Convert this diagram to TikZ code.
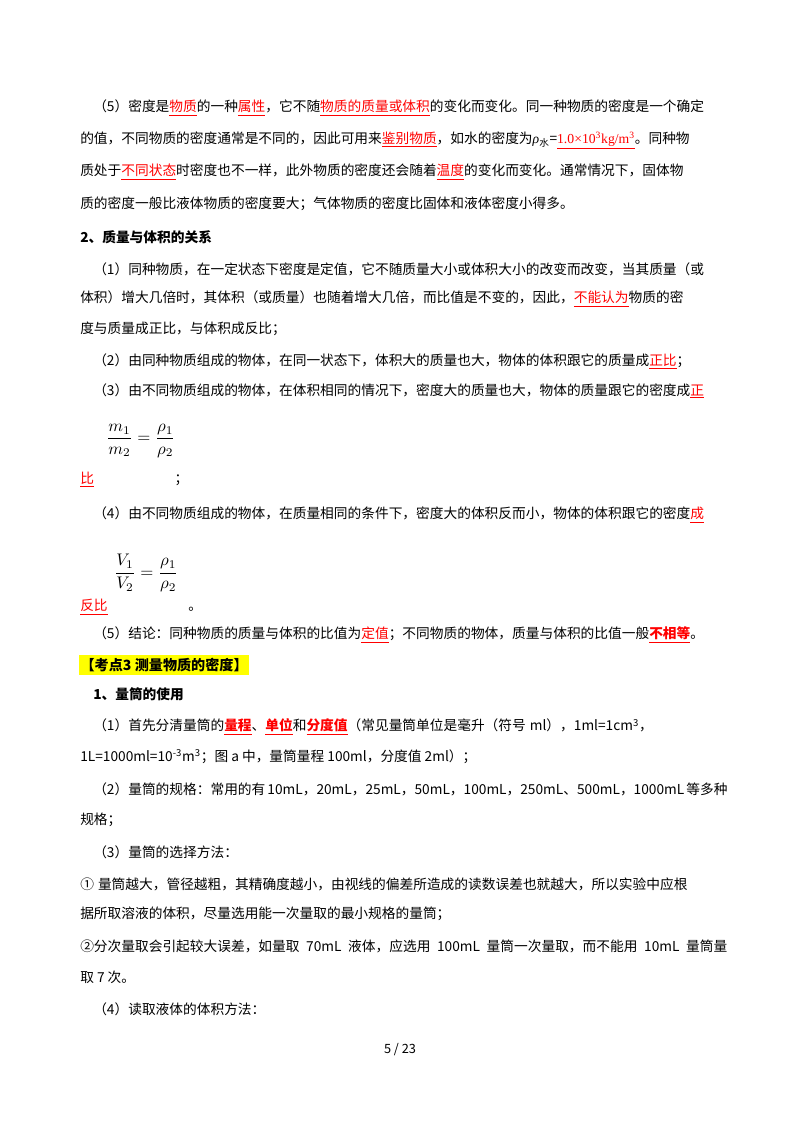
\documentclass[tikz,border=0pt]{standalone}
\usepackage{fontspec}
\setmainfont{Noto Sans CJK SC}
\newfontfamily\lat{Liberation Serif}
\XeTeXlinebreaklocale "zh"
\XeTeXlinebreakskip=0pt plus 1fil
\definecolor{hl}{RGB}{255,255,0}
\newcommand\ru[1]{\textcolor{red}{\underline{#1}}}
\newcommand\rb[1]{\textcolor{red}{\underline{\bfseries #1}}}
\newcommand\jl[2]{\makebox[#1\dimexpr0.744pt\relax][s]{#2}}
\begin{document}
\begin{tikzpicture}[x=0.744pt,y=-0.744pt,
  ln/.style={anchor=west,inner sep=0pt,font=\fontsize{10.2pt}{12pt}\selectfont}]
\useasboundingbox[fill=white] (0,0) rectangle (800,1132);
\node[ln] (l1) at (93,108) {\jl{634}{（5）密度是\ru{物质}的一种\ru{属性}，它不随\ru{物质的质量或体积}的变化而变化。同一种物质的密度是一个确定}};
\node[ln] (l2) at (80,140) {\jl{647}{的值，不同物质的密度通常是不同的，因此可用来\ru{鉴别物质}，如水的密度为{\lat\itshape ρ}\textsubscript{水}=\ru{\lat 1.0×10\textsuperscript{3}kg/m\textsuperscript{3}}。同种物}};
\node[ln] (l3) at (80,172) {\jl{647}{质处于\ru{不同状态}时密度也不一样，此外物质的密度还会随着\ru{温度}的变化而变化。通常情况下，固体物}};
\node[ln] (l4) at (80,204) {质的密度一般比液体物质的密度要大；气体物质的密度比固体和液体密度小得多。};
\node[ln,font=\fontsize{10.2pt}{12pt}\selectfont\bfseries] (h2) at (80,237) {2、质量与体积的关系};
\node[ln] (l5) at (93,269) {\jl{634}{（1）同种物质，在一定状态下密度是定值，它不随质量大小或体积大小的改变而改变，当其质量（或}};
\node[ln] (l6) at (80,299) {\jl{647}{体积）增大几倍时，其体积（或质量）也随着增大几倍，而比值是不变的，因此，\ru{不能认为}物质的密}};
\node[ln] (l7) at (80,329) {度与质量成正比，与体积成反比；};
\node[ln] (l8) at (93,361) {（2）由同种物质组成的物体，在同一状态下，体积大的质量也大，物体的体积跟它的质量成\ru{正比}；};
\node[ln] (l9) at (93,391) {\jl{629}{（3）由不同物质组成的物体，在体积相同的情况下，密度大的质量也大，物体的质量跟它的密度成\ru{正}}};
\node[anchor=west,inner sep=0pt,scale=1.25] (f1) at (106,441) {$\displaystyle\frac{m_1}{m_2}=\frac{\rho_1}{\rho_2}$};
\node[ln] (l10) at (80,480) {\ru{比}\hspace{60pt}；};
\node[ln] (l11) at (93,515) {\jl{629}{（4）由不同物质组成的物体，在质量相同的条件下，密度大的体积反而小，物体的体积跟它的密度\ru{成}}};
\node[anchor=west,inner sep=0pt,scale=1.25] (f2) at (114,573) {$\displaystyle\frac{V_1}{V_2}=\frac{\rho_1}{\rho_2}$};
\node[ln] (l12) at (80,607) {\ru{反比}\hspace{60pt}。};
\node[ln] (l13) at (93,635) {\jl{630}{（5）结论：同种物质的质量与体积的比值为\ru{定值}；不同物质的物体，质量与体积的比值一般\rb{不相等}。}};
\node[ln,fill=hl,inner xsep=1pt,inner ysep=2pt,font=\fontsize{10.5pt}{12pt}\selectfont\bfseries] (h3) at (79,665) {【考点3\ 测量物质的密度】};
\node[ln,font=\fontsize{10.2pt}{12pt}\selectfont\bfseries] (h4) at (93,694) {1、量筒的使用};
\node[ln] (l14) at (93,727) {\jl{634}{（1）首先分清量筒的\rb{量程}、\rb{单位}和\rb{分度值}（常见量筒单位是毫升（符号\hspace*{3pt}ml），1ml=1cm\textsuperscript{3}，}};
\node[ln] (l15) at (80,757) {1L=1000ml=10\textsuperscript{-3}m\textsuperscript{3}；图 a 中，量筒量程 100ml，分度值 2ml）；};
\node[ln] (l16) at (93,789) {\jl{634}{（2）量筒的规格：常用的有 10mL，20mL，25mL，50mL，100mL，250mL、500mL，1000mL 等多种}};
\node[ln] (l17) at (80,820) {规格；};
\node[ln] (l18) at (93,852) {（3）量筒的选择方法：};
\node[ln] (l19) at (80,884) {\jl{647}{①\hspace*{3pt}量筒越大，管径越粗，其精确度越小，由视线的偏差所造成的读数误差也就越大，所以实验中应根}};
\node[ln] (l20) at (80,914) {据所取溶液的体积，尽量选用能一次量取的最小规格的量筒；};
\node[ln] (l21) at (80,946) {\jl{647}{②分次量取会引起较大误差，如量取 70mL 液体，应选用 100mL 量筒一次量取，而不能用 10mL 量筒量}};
\node[ln] (l22) at (80,977) {取 7 次。};
\node[ln] (l23) at (93,1009) {（4）读取液体的体积方法：};
\node[inner sep=0pt,font=\fontsize{9.5pt}{10pt}\selectfont] (pg) at (400,1050) {5 / 23};
\end{tikzpicture}
\end{document}
